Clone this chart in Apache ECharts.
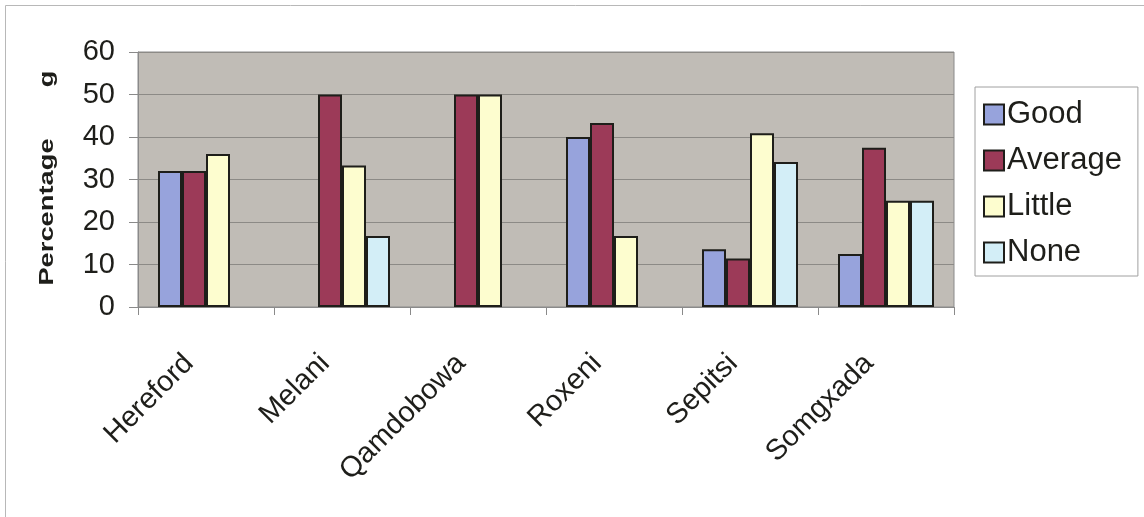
<!DOCTYPE html>
<html>
<head>
<meta charset="utf-8">
<script src="https://cdn.jsdelivr.net/npm/echarts@6/dist/echarts.min.js"></script>
<style>
  html, body { margin: 0; padding: 0; background: #ffffff; }
  #chart { width: 1144px; height: 517px; }
</style>
</head>
<body>
<div id="chart"></div>
<script>
// Breed categories on the x axis
const categories = ['Hereford', 'Melani', 'Qamdobowa', 'Roxeni', 'Sepitsi', 'Somgxada'];

// Percentage of responses per rating (0 = no bar drawn)
const good    = [32, 0, 0, 40, 13.6, 12.5];
const average = [32, 50, 50, 43.3, 11.4, 37.5];
const little  = [36, 33.3, 50, 16.7, 40.9, 25];
const none    = [0, 16.7, 0, 0, 34.1, 25];

const seriesNames = ['Good', 'Average', 'Little', 'None'];
const seriesColors = ['#97a3dc', '#9c3a58', '#fdfdcf', '#d3eef7'];

// Y axis scale
const yMin = 0, yMax = 60, yStep = 10;

const FONT = '"Liberation Sans", Arial, sans-serif';
const INK = '#1e1e1a';

const chart = echarts.init(document.getElementById('chart'), null, { renderer: 'canvas' });

const toBars = arr => arr.map(v => (v === 0 ? null : v));

const series = [good, average, little, none].map((vals, i) => ({
  name: seriesNames[i],
  type: 'bar',
  data: toBars(vals),
  barWidth: 24,
  barGap: '0%',
  itemStyle: { color: seriesColors[i], borderColor: INK, borderWidth: 2 },
  emphasis: { disabled: true }
}));

chart.setOption({
  animation: false,
  backgroundColor: '#ffffff',
  textStyle: { fontFamily: FONT },
  grid: {
    left: 138, right: 190, top: 52, bottom: 210,
    show: true,
    backgroundColor: '#c0bcb6',
    borderColor: '#8a8a8a',
    borderWidth: 1,
    containLabel: false,
    outerBoundsMode: 'none'
  },
  legend: {
    orient: 'vertical',
    left: 975, top: 87,
    padding: [12, 16, 8, 8],
    itemGap: 15,
    itemWidth: 20, itemHeight: 20,
    icon: 'rect',
    backgroundColor: '#ffffff',
    borderColor: '#a0a0a0',
    borderWidth: 1,
    itemStyle: { borderColor: INK, borderWidth: 2 },
    textStyle: { fontFamily: FONT, fontSize: 31, lineHeight: 30, color: INK, padding: [0, 0, 0, -2] },
    data: seriesNames
  },
  xAxis: {
    type: 'category',
    data: categories,
    axisLine: { show: true, lineStyle: { color: '#8a8a8a', width: 1 } },
    axisTick: { show: true, length: 8, lineStyle: { color: '#8a8a8a' } },
    axisLabel: {
      interval: 0, rotate: 45, margin: 35,
      padding: [0, 24, 0, 0],
      fontFamily: FONT, fontSize: 29, color: INK
    },
    splitLine: { show: false }
  },
  yAxis: {
    type: 'value',
    min: yMin, max: yMax, interval: yStep,
    axisLine: { show: true, lineStyle: { color: '#8a8a8a', width: 1 } },
    axisTick: { show: true, length: 9, lineStyle: { color: '#8a8a8a' } },
    axisLabel: { margin: 23, fontFamily: FONT, fontSize: 29, color: INK },
    splitLine: { show: true, lineStyle: { color: '#8c8a86', width: 1 } }
  },
  graphic: [
    // outer chart frame
    {
      type: 'rect', silent: true, z: -10,
      shape: { x: 5.5, y: 5.5, width: 1160, height: 560 },
      style: { fill: null, stroke: '#b8b8b8', lineWidth: 1 }
    },
    // axis title
    {
      type: 'text', silent: true,
      x: 47, y: 212, rotation: Math.PI / 2, scaleX: 1.3,
      style: {
        text: 'Percentage', x: 0, y: 0,
        align: 'center', verticalAlign: 'middle',
        font: 'bold 21px ' + FONT, fill: INK
      }
    },
    {
      type: 'text', silent: true,
      x: 47, y: 79, rotation: Math.PI / 2, scaleX: 1.3,
      style: {
        text: 'g', x: 0, y: 0,
        align: 'center', verticalAlign: 'middle',
        font: 'bold 21px ' + FONT, fill: INK
      }
    }
  ],
  series: series
});
</script>
</body>
</html>
